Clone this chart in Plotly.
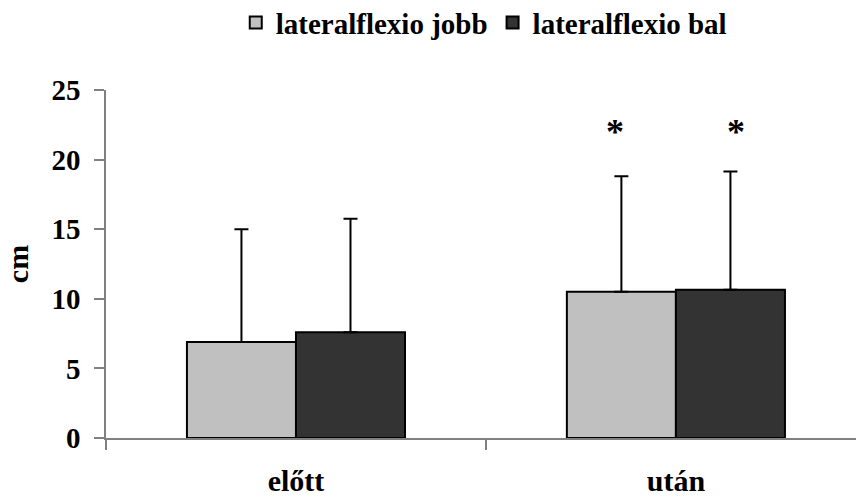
import plotly.graph_objects as go

# Lateral flexion (cm) before / after, with SD
categories = ["előtt", "után"]
jobb_mean = [6.9, 10.5]
jobb_sd = [8.1, 8.3]
bal_mean = [7.6, 10.65]
bal_sd = [8.15, 8.5]
series_names = ["lateralflexio jobb", "lateralflexio bal"]
y_ticks = [0, 5, 10, 15, 20, 25]
sig_marks = ["*", "*"]
sig_level = 22.0

FONT = "Liberation Serif"

fig = go.Figure()
for name, means, sds, color in [
    (series_names[0], jobb_mean, jobb_sd, "#C0C0C0"),
    (series_names[1], bal_mean, bal_sd, "#333333"),
]:
    fig.add_trace(go.Bar(
        x=categories, y=means, name=name,
        marker=dict(color=color, line=dict(color="black", width=2)),
        error_y=dict(type="data", array=sds, arrayminus=[0] * len(sds),
                     symmetric=False, color="black", thickness=2, width=7),
    ))

# significance markers over the "után" bars
for mark, shift in zip(sig_marks, [-61, 60]):
    fig.add_annotation(x=categories[1], y=sig_level, text=mark, showarrow=False,
                       xshift=shift, font=dict(family=FONT, size=36, color="black",
                                               weight="bold"))

fig.update_layout(
    width=856, height=499,
    margin=dict(l=106, r=0, t=90, b=61, autoexpand=False),
    paper_bgcolor="white", plot_bgcolor="white",
    barmode="group", bargap=0.426, bargroupgap=0,
    font=dict(family=FONT, size=29, color="black", weight="bold"),
    showlegend=True,
    legend=dict(orientation="h", x=0.173, xanchor="left", y=1.267, yanchor="top",
                yref="paper", font=dict(family=FONT, size=29, color="black",
                                        weight="bold"),
                itemwidth=30, traceorder="normal"),
    xaxis=dict(range=[-0.5, 1.474], showline=True, linecolor="#808080", linewidth=1.5,
               ticks="outside", tickson="boundaries", ticklen=10, tickcolor="#808080",
               tickwidth=1.5, showgrid=False, ticklabelstandoff=15, automargin=False,
               tickfont=dict(family=FONT, size=30, color="black", weight="bold")),
    yaxis=dict(range=[0, 25], tickvals=y_ticks, showline=True, linecolor="#808080",
               linewidth=1.5, ticks="outside", ticklen=10, tickcolor="#808080",
               tickwidth=1.5, showgrid=False, zeroline=False, ticklabelstandoff=8,
               automargin=False,
               tickfont=dict(family=FONT, size=29, color="black", weight="bold"),
               title=dict(text="cm", standoff=14,
                          font=dict(family=FONT, size=30, color="black", weight="bold"))),
)

fig.write_html("out.html")
